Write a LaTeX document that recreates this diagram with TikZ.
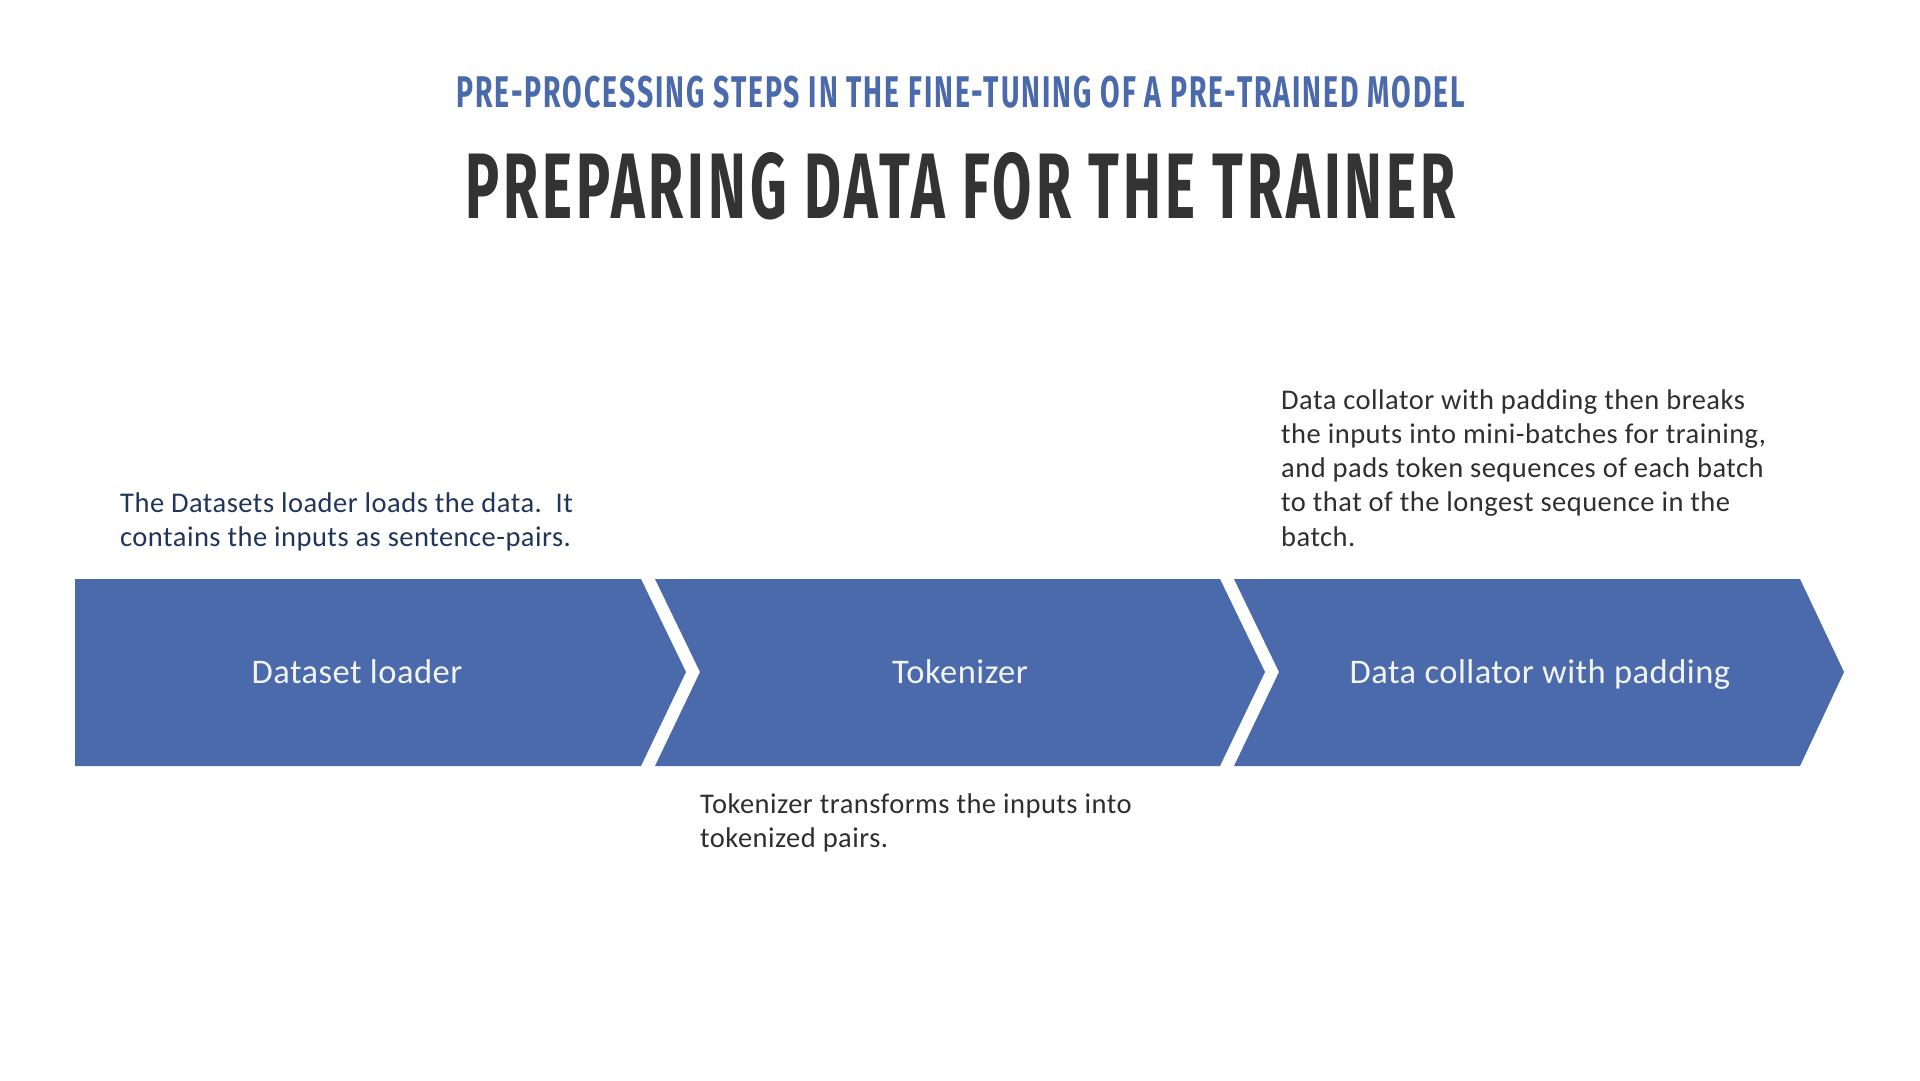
\documentclass[tikz,border=0pt]{standalone}
\usepackage{fontspec}
\setmainfont{Carlito}
\newfontfamily\headfont[LetterSpace=7]{Fira Sans}
\usepackage{graphicx}

\definecolor{chevblue}{HTML}{4A6AAC}
\definecolor{subblue}{HTML}{4A6AAC}
\definecolor{titlegray}{HTML}{333333}
\definecolor{navytext}{HTML}{203559}
\definecolor{bodygray}{HTML}{2F2F2F}
\definecolor{labelwhite}{HTML}{F2F4F8}

\tikzset{
  chevron/.style={fill=chevblue, draw=none},
  steplabel/.style={anchor=base, inner sep=0pt, text=labelwhite,
    font=\fontsize{34.5}{40}\selectfont\addfontfeatures{LetterSpace=1.4}},
  note/.style={anchor=base west, inner sep=0pt,
    font=\fontsize{28.5}{34.3}\selectfont\addfontfeatures{LetterSpace=1.7}},
}

\newcommand{\notebox}[1]{\parbox[t]{700pt}{\raggedright #1}}

\begin{document}
\begin{tikzpicture}[x=1pt, y=-1pt]
  \useasboundingbox[fill=white] (0,0) rectangle (1920,1080);

  % headings, squeezed to the width of a condensed display face
  \node[anchor=north west, inner sep=0pt, text=subblue] (subtitle) at (456,76)
    {\resizebox{1009pt}{31.5pt}{\headfont\bfseries PRE-PROCESSING STEPS IN THE FINE-TUNING OF A PRE-TRAINED MODEL}};
  \node[anchor=north west, inner sep=0pt, text=titlegray] (title) at (465,152)
    {\resizebox{990pt}{66pt}{\headfont\bfseries PREPARING DATA FOR THE TRAINER}};

  % process chevrons
  \fill[chevron] (75,579) -- (641,579) -- (686,672) -- (641,766) -- (75,766) -- cycle;
  \fill[chevron] (655,579) -- (1220,579) -- (1265,672) -- (1220,766) -- (655,766) -- (700,672) -- cycle;
  \fill[chevron] (1234,579) -- (1800,579) -- (1844,672) -- (1800,766) -- (1234,766) -- (1279,672) -- cycle;

  \node[steplabel] (loader) at (357,683) {Dataset loader};
  \node[steplabel] (tokenizer) at (960,683) {Tokenizer};
  \node[steplabel] (collator) at (1540,683) {Data collator with padding};

  % step descriptions
  \node[note, text=navytext] (loadernote) at (120,512)
    {\notebox{The Datasets loader loads the data.\ \ It\\contains the inputs as sentence-pairs.}};
  \node[note, text=bodygray] (tokenizernote) at (700,813)
    {\notebox{Tokenizer transforms the inputs into\\tokenized pairs.}};
  \node[note, text=bodygray] (collatornote) at (1281,409)
    {\notebox{Data collator with padding then breaks\\the inputs into mini-batches for training,\\and pads token sequences of each batch\\to that of the longest sequence in the\\batch.}};
\end{tikzpicture}
\end{document}
